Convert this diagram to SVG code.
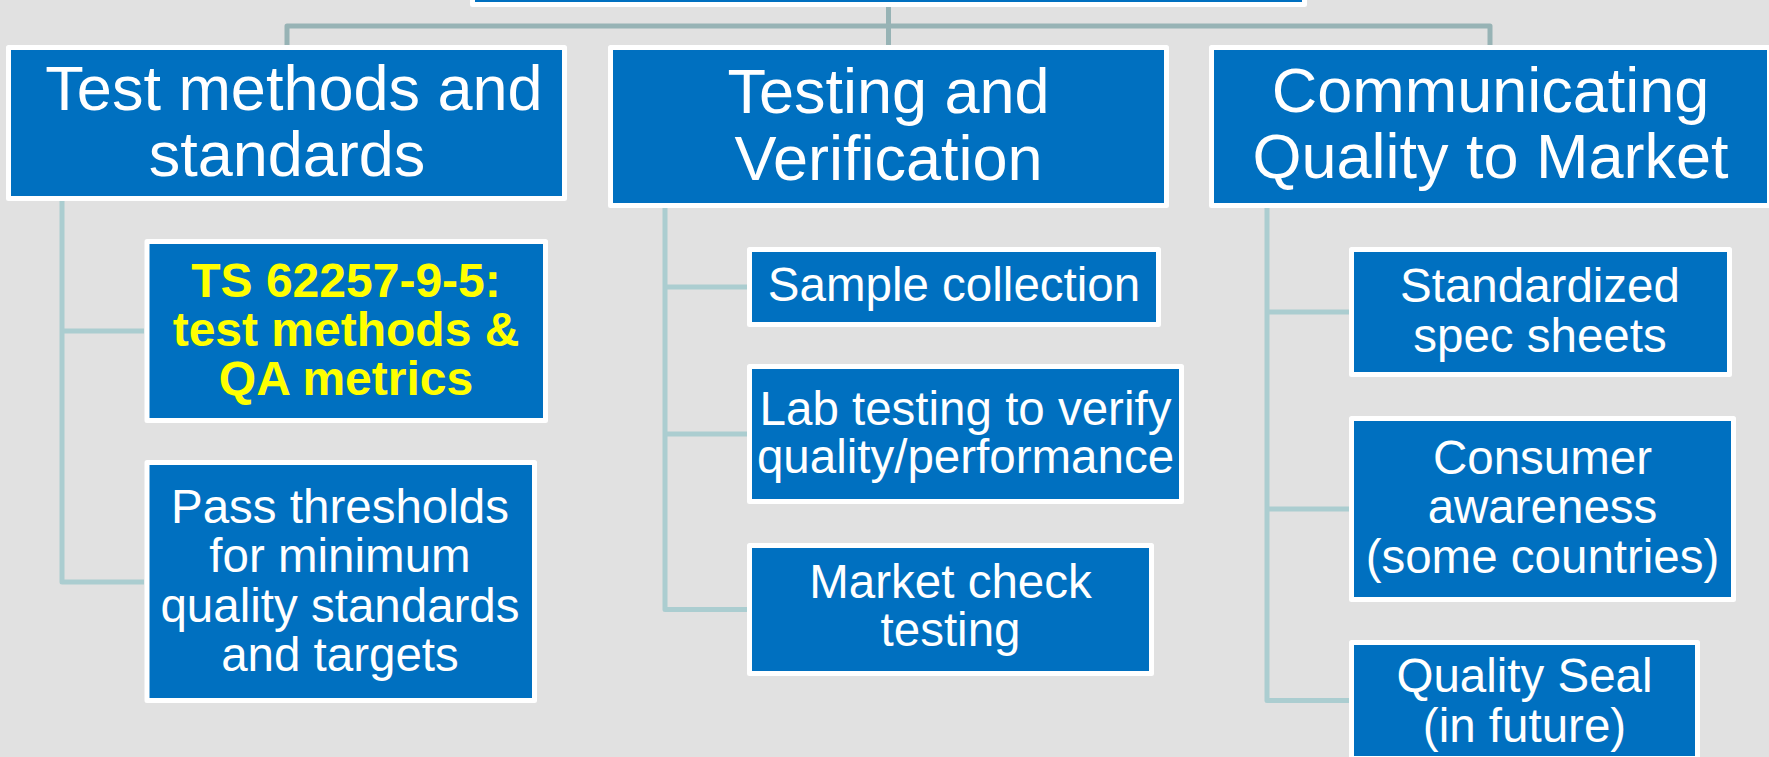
<svg xmlns="http://www.w3.org/2000/svg" width="1769" height="757" viewBox="0 0 1769 757">
<style>
.bg{fill:#e1e1e1}
.box{fill:#0070c0;stroke:#ffffff;stroke-width:5;stroke-linejoin:round}
.t{font-family:"Liberation Sans",Arial,sans-serif;fill:#ffffff;text-anchor:middle}
.h{font-size:63px}
.c{font-size:47.5px}
.y{fill:#ffff00;font-weight:bold;font-size:48px}
.top{fill:none;stroke:#97b3b5;stroke-width:5;stroke-linejoin:round}
.sub{fill:none;stroke:#abcdd0;stroke-width:5;stroke-linejoin:round}
</style>
<rect class="bg" x="0" y="0" width="1769" height="757"/>
<g id="connectors">
<path class="top" d="M888.5,7 V45 M287,45 V26 H1490 V45"/>
<path class="sub" d="M62,201 V582 H144 M62,331 H144"/>
<path class="sub" d="M665,208 V609.5 H747 M665,287 H747 M665,434 H747"/>
<path class="sub" d="M1267,208 V700.5 H1349 M1267,312 H1349 M1267,509 H1349"/>
</g>
<g id="root">
<rect class="box" x="472.5" y="-60" width="832" height="64.5"/>
</g>
<g id="n1">
<rect class="box" x="8.5" y="47.5" width="556" height="151"/>
<text class="t h" x="294" y="110">Test methods and</text>
<text class="t h" x="287" y="176">standards</text>
</g>
<g id="n2">
<rect class="box" x="610.5" y="47.5" width="556" height="158"/>
<text class="t h" x="888.5" y="113">Testing and</text>
<text class="t h" x="888.5" y="180">Verification</text>
</g>
<g id="n3">
<rect class="box" x="1211.5" y="47.5" width="558" height="158"/>
<text class="t h" x="1490.5" y="112">Communicating</text>
<text class="t h" x="1490.5" y="178">Quality to Market</text>
</g>
<g id="n1a">
<rect class="box" x="147" y="241.5" width="398.5" height="179"/>
<text class="t y" x="346" y="297">TS 62257-9-5:</text>
<text class="t y" x="346" y="346">test methods &amp;</text>
<text class="t y" x="346" y="395">QA metrics</text>
</g>
<g id="n1b">
<rect class="box" x="147" y="462.5" width="387.5" height="238"/>
<text class="t c" x="340" y="523">Pass thresholds</text>
<text class="t c" x="340" y="572">for minimum</text>
<text class="t c" x="340" y="622">quality standards</text>
<text class="t c" x="340" y="671">and targets</text>
</g>
<g id="n2a">
<rect class="box" x="749.5" y="249.5" width="409" height="75"/>
<text class="t c" x="954" y="301">Sample collection</text>
</g>
<g id="n2b">
<rect class="box" x="749.5" y="366.5" width="432" height="135"/>
<text class="t c" x="965.5" y="425">Lab testing to verify</text>
<text class="t c" x="965.5" y="473">quality/performance</text>
</g>
<g id="n2c">
<rect class="box" x="749.5" y="545.5" width="402" height="128"/>
<text class="t c" x="950.5" y="598">Market check</text>
<text class="t c" x="950.5" y="646">testing</text>
</g>
<g id="n3a">
<rect class="box" x="1351.5" y="249.5" width="378" height="125"/>
<text class="t c" x="1540" y="302">Standardized</text>
<text class="t c" x="1540" y="352">spec sheets</text>
</g>
<g id="n3b">
<rect class="box" x="1351.5" y="418.5" width="382" height="181"/>
<text class="t c" x="1542.5" y="474">Consumer</text>
<text class="t c" x="1542.5" y="523">awareness</text>
<text class="t c" x="1542.5" y="573">(some countries)</text>
</g>
<g id="n3c">
<rect class="box" x="1351.5" y="642.5" width="346" height="116"/>
<text class="t c" x="1524.5" y="692">Quality Seal</text>
<text class="t c" x="1524.5" y="742">(in future)</text>
</g>
</svg>
